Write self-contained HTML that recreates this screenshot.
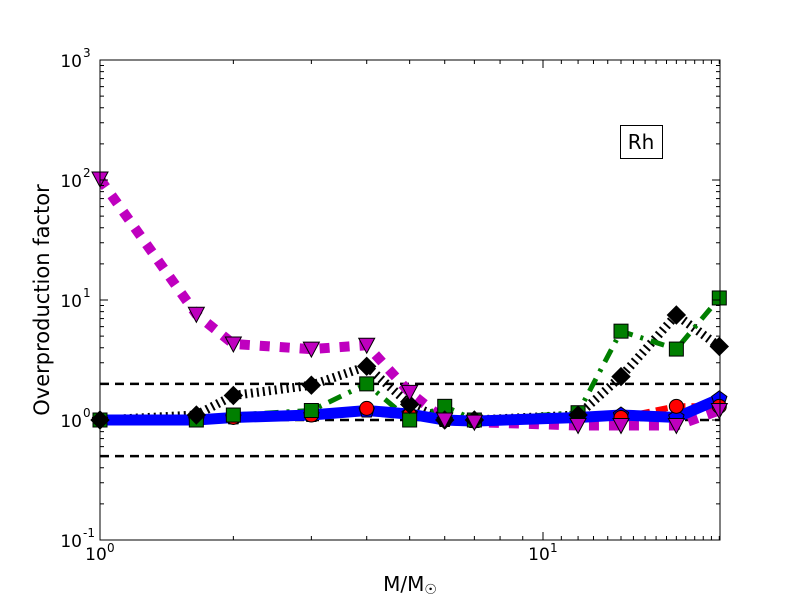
<!DOCTYPE html>
<html><head><meta charset="utf-8"><style>
body{margin:0;background:#fff;}
svg{display:block;font-family:"DejaVu Sans","Liberation Sans",sans-serif;}
</style></head><body>
<svg id="chart" width="800" height="600" viewBox="0 0 800 600">
<rect x="0" y="0" width="800" height="600" fill="#fff"/>
<defs><clipPath id="clip"><rect x="100" y="60" width="620" height="480"/></clipPath></defs>
<g id="refs" clip-path="url(#clip)"></g>
<g id="series" clip-path="url(#clip)"></g>
<g id="markers"></g>
<rect x="100" y="60" width="620" height="480" fill="none" stroke="#000" stroke-width="1"/>
<g id="ticks"></g>
<text x="410" y="591" font-size="20" text-anchor="middle">M/M<tspan font-size="14" dy="3">☉</tspan></text>
<text transform="translate(49,300) rotate(-90)" font-size="21" text-anchor="middle">Overproduction factor</text>
<g>
<rect x="620.5" y="125.5" width="42" height="33" fill="#fff" stroke="#000" stroke-width="1"/>
<text x="641" y="149" font-size="20" text-anchor="middle">Rh</text>
</g>
</svg>
<script>
const masses=[1,1.65,2,3,4,5,6,7,12,15,20,25];
const blueVals=[1.0,1.0,1.05,1.1,1.2,1.12,1.0,0.98,1.05,1.1,1.05,1.5];
const redVals=[1.0,1.0,1.05,1.1,1.25,1.1,1.0,0.98,1.05,1.05,1.3,1.3];
const greenVals=[1.0,1.0,1.1,1.2,2.0,1.0,1.3,1.0,1.15,5.5,3.9,10.4];
const blackVals=[1.0,1.1,1.6,1.95,2.8,1.35,1.0,1.0,1.1,2.3,7.5,4.1];
const magentaVals=[102,7.6,4.3,3.9,4.2,1.7,1.0,0.96,0.9,0.9,0.9,1.2];
const refLevels=[0.5,1,2];
const yTickLabels=["10","10","10","10","10"];
const yTickExps=["-1","0","1","2","3"];
const xTickExps=["0","1"];
const NS="http://www.w3.org/2000/svg";
const X=m=>100+Math.log10(m)*443;
const Y=v=>540-(Math.log10(v)+1)*120;
function el(tag,attrs,parent){const e=document.createElementNS(NS,tag);for(const k in attrs)e.setAttribute(k,attrs[k]);parent.appendChild(e);return e;}
const refs=document.getElementById('refs'),ser=document.getElementById('series'),mk=document.getElementById('markers'),tk=document.getElementById('ticks');
refLevels.forEach(v=>{const l=el('line',{x1:100,x2:720,y1:Y(v),y2:Y(v),stroke:'#000','stroke-width':2.5,'stroke-dasharray':'9,6'},refs);

});
function pts(vals){return vals.map((v,i)=>X(masses[i]).toFixed(1)+','+Y(v).toFixed(1)).join(' ');}
const defs=[
 {vals:magentaVals,color:'#bf00bf',w:10,dash:'10,10',name:'series-magenta',m:'tri'},
 {vals:blackVals,color:'#000',w:9,dash:'2,4',name:'series-black',m:'dia'},
 {vals:greenVals,color:'#007f00',w:5,dash:'14,8,3,8',name:'series-green',m:'sq'},
 {vals:redVals,color:'#ff0000',w:6,dash:'12,6',name:'series-red',m:'circ'},
 {vals:blueVals,color:'#0000ff',w:11,dash:'none',name:'series-blue',m:'pent'}];
defs.forEach(d=>{const p=el('polyline',{points:pts(d.vals),fill:'none',stroke:d.color,'stroke-width':d.w,'stroke-dasharray':d.dash},ser);

});
defs.slice().reverse().forEach(d=>{d.vals.forEach((v,i)=>{const x=X(masses[i]),y=Y(v);let e;
 const a={fill:d.color,stroke:'#000','stroke-width':1};
 if(d.m==='tri'){a.points=`${x-8},${y-7} ${x+8},${y-7} ${x},${y+8}`;e=el('polygon',a,mk);}
 else if(d.m==='dia'){a.points=`${x},${y-9} ${x+9},${y} ${x},${y+9} ${x-9},${y}`;e=el('polygon',a,mk);}
 else if(d.m==='sq'){a.x=x-7;a.y=y-7;a.width=14;a.height=14;e=el('rect',a,mk);}
 else if(d.m==='circ'){a.cx=x;a.cy=y;a.r=7;e=el('circle',a,mk);}
 else {let s='';for(let k=0;k<5;k++){const t=-Math.PI/2+k*2*Math.PI/5;s+=(x+8*Math.cos(t)).toFixed(1)+','+(y+8*Math.sin(t)).toFixed(1)+' ';}a.points=s;e=el('polygon',a,mk);}
 
 });});
for(let dcd=-1;dcd<=3;dcd++){const y=Y(Math.pow(10,dcd));
 el('line',{x1:100,x2:108,y1:y,y2:y,stroke:'#000'},tk);el('line',{x1:720,x2:712,y1:y,y2:y,stroke:'#000'},tk);
 const t=el('text',{x:82,y:y+7,'font-size':17,'text-anchor':'end'},tk);t.textContent=yTickLabels[dcd+1];
 const s=el('text',{x:83,y:y-3,'font-size':12},tk);s.textContent=yTickExps[dcd+1];
 
 
 if(dcd<3)for(let k=2;k<10;k++){const yy=Y(k*Math.pow(10,dcd));el('line',{x1:100,x2:104,y1:yy,y2:yy,stroke:'#000'},tk);el('line',{x1:720,x2:716,y1:yy,y2:yy,stroke:'#000'},tk);}}
[0,1].forEach(dcd=>{const x=X(Math.pow(10,dcd));
 el('line',{x1:x,x2:x,y1:540,y2:532,stroke:'#000'},tk);el('line',{x1:x,x2:x,y1:60,y2:68,stroke:'#000'},tk);
 const t=el('text',{x:x-4,y:560,'font-size':17,'text-anchor':'middle'},tk);t.textContent='10';
 const s=el('text',{x:x+7,y:552,'font-size':12},tk);s.textContent=xTickExps[dcd];
 
 });
for(let m=2;m<=25;m++){if(m===10)continue;const x=X(m);if(x>720)break;
 el('line',{x1:x,x2:x,y1:540,y2:536,stroke:'#000'},tk);el('line',{x1:x,x2:x,y1:60,y2:64,stroke:'#000'},tk);}
</script>
</body></html>
